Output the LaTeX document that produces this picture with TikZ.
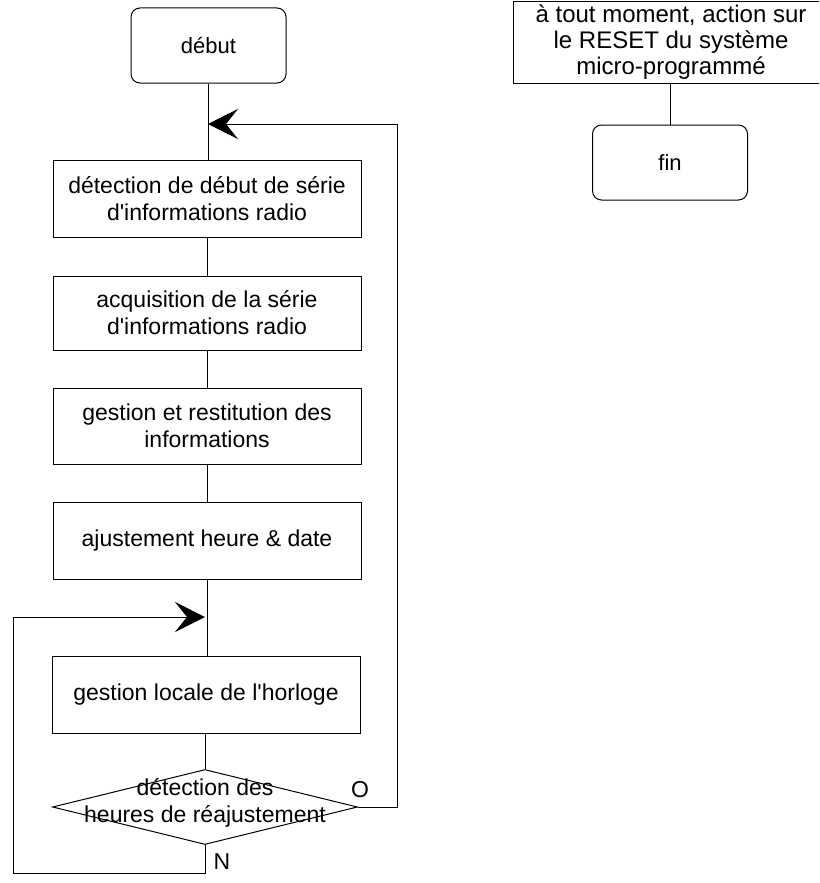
\documentclass[tikz,border=0pt]{standalone}
\usepackage{fontspec}
\setmainfont{Liberation Sans}[Ligatures=TeXOff]
\usetikzlibrary{arrows.meta,shapes.geometric}
\begin{document}
\begin{tikzpicture}[x=1pt,y=-1pt,
  box/.style={draw, line width=1pt, minimum width=308pt, inner sep=0pt, align=center, font=\fontsize{23}{27}\selectfont},
  term/.style={draw, line width=1pt, rounded corners=9pt, minimum width=155pt, minimum height=75pt, inner sep=0pt, font=\fontsize{22}{26}\selectfont},
  conn/.style={line width=1pt},
  arr/.style={line width=1pt, -{Stealth[length=30pt,width=30pt,inset=12pt]}},
  lbl/.style={font=\fontsize{23}{27}\selectfont}]
\useasboundingbox (0,0) rectangle (819,883);
\clip (0,0) rectangle (819,883);
\fill[white] (0,0) rectangle (819,883);

% left column
\node[term] (debut) at (208.5,45.5) {début};
\node[box, minimum height=77pt] (b1) at (207,199) {détection de début de série\\d'informations radio};
\node[box, minimum height=74pt] (b2) at (207,313) {acquisition de la série\\d'informations radio};
\node[box, minimum height=76pt] (b3) at (207,426) {gestion et restitution des\\informations};
\node[box, minimum height=77pt] (b4) at (207,540.5) {ajustement heure \& date};
\node[box, minimum height=77pt] (b5) at (206,694.5) {gestion locale de l'horloge};
\node[diamond, draw, line width=1pt, minimum width=305pt, minimum height=75pt, inner sep=0pt] (dec) at (205,807) {};
\node[lbl, align=center] (dect) at (205,803) {détection des\\heures de réajustement};

\coordinate (m1) at (208,124);
\coordinate (m2) at (205,617);
\coordinate (r1) at (397,807);
\coordinate (r2) at (397,124);
\coordinate (l1) at (205,873);
\coordinate (l2) at (13,873);
\coordinate (l3) at (13,617);

\draw[conn] (debut.south) -- (b1.north -| debut.south);
\draw[conn] (b1.south) -- (b2.north);
\draw[conn] (b2.south) -- (b3.north);
\draw[conn] (b3.south) -- (b4.north);
\draw[conn] (b4.south) -- (b5.north -| b4.south);
\draw[conn] (b5.south -| dec.north) -- (dec.north);
\draw[arr] (dec.east) -- (r1) -- (r2) -- (m1);
\draw[arr] (dec.south) -- (l1) -- (l2) -- (l3) -- (m2);

\node[lbl] (lo) at (360,790) {O};
\node[lbl] (ln) at (222,862) {N};

% right column
\node[draw, line width=1pt, minimum width=316pt, minimum height=81pt, inner sep=0pt, align=center, font=\fontsize{24}{26}\selectfont] (reset) at (671,42.5) {à tout moment, action sur\\le RESET du système\\micro-programmé};
\node[term] (fin) at (670,162.5) {fin};
\draw[conn] (reset.south -| fin.north) -- (fin.north);
\end{tikzpicture}
\end{document}
